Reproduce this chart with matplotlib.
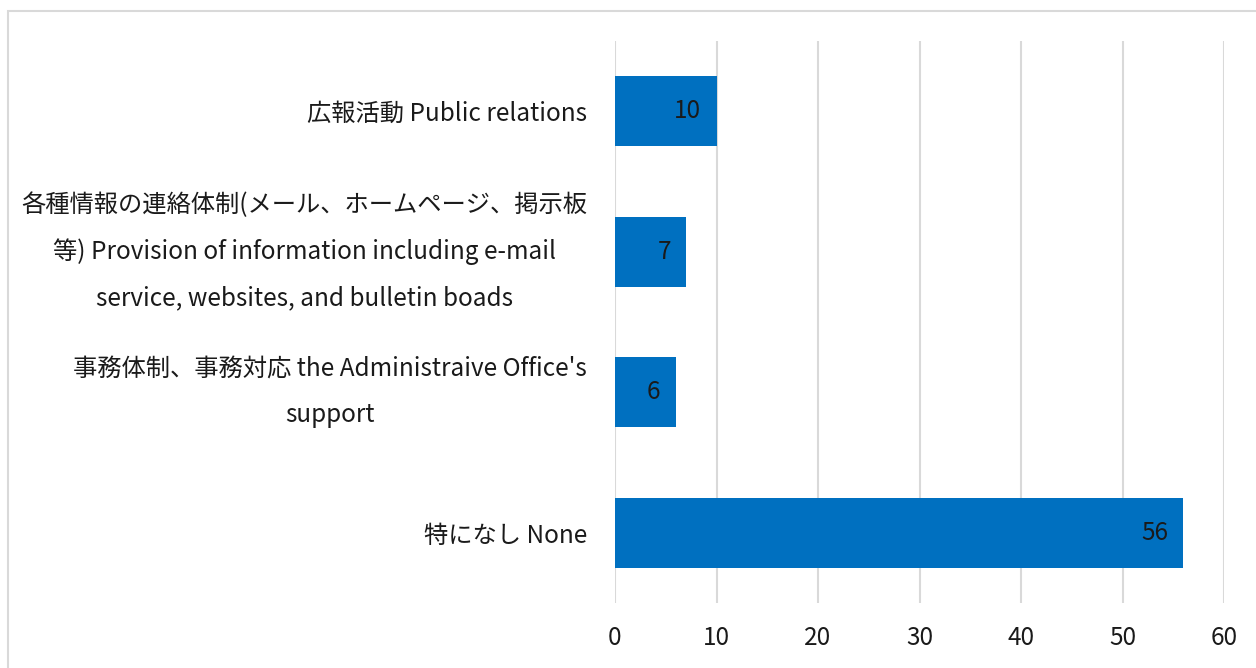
import matplotlib
matplotlib.use("Agg")
import matplotlib.pyplot as plt
from matplotlib.patches import Rectangle

# --- data ---
categories = [
    "広報活動 Public relations",
    "各種情報の連絡体制(メール、ホームページ、掲示板\n等) Provision of information including e-mail\nservice, websites, and bulletin boads",
    "事務体制、事務対応 the Administraive Office's\nsupport",
    "特になし None",
]
values = [10, 7, 6, 56]
xticks = [0, 10, 20, 30, 40, 50, 60]

BAR = "#0070C0"
GRID = "#d9d9d9"
INK = "#1a1a1a"
FS = 17.5

plt.rcParams["font.family"] = ["Noto Sans CJK JP", "DejaVu Sans"]

fig = plt.figure(figsize=(12.56, 6.68), dpi=100)
ax = fig.add_axes([615 / 1256, 1 - 603 / 668, (1224 - 615) / 1256, (603 - 41) / 668])

ys = list(range(len(categories)))
ax.barh(ys, values, height=0.5, color=BAR, zorder=3)
for y, v in zip(ys, values):
    ax.annotate(str(v), (v, y), textcoords="offset points", xytext=(-11, 0),
                ha="right", va="center", fontsize=FS, color=INK, zorder=4)

ax.set_xlim(0, 60)
ax.set_ylim(-0.5, len(categories) - 0.5)
ax.invert_yaxis()
ax.set_xticks(xticks)
ax.set_xticklabels([str(t) for t in xticks], fontsize=FS, color=INK)
ax.set_yticks(ys)
ax.set_yticklabels(categories, fontsize=FS, color=INK, linespacing=2.0)
for lab in ax.get_yticklabels():
    lab.set_multialignment("center")
    if "\n" in lab.get_text():
        lab.set_verticalalignment("center")
ax.tick_params(axis="both", length=0)
ax.tick_params(axis="y", pad=20)
ax.tick_params(axis="x", pad=16)
for s in ax.spines.values():
    s.set_visible(False)
ax.grid(axis="x", color=GRID, linewidth=1.5, zorder=0)
ax.set_axisbelow(True)

# outer chart-area border (cropped on right/bottom in the reference)
fig.patches.append(Rectangle((8 / 1256, -0.1), 1.2, 1 - 11 / 668 + 0.1,
                             transform=fig.transFigure, fill=False,
                             edgecolor=GRID, linewidth=1.5))

fig.savefig("out.png", dpi=100)
